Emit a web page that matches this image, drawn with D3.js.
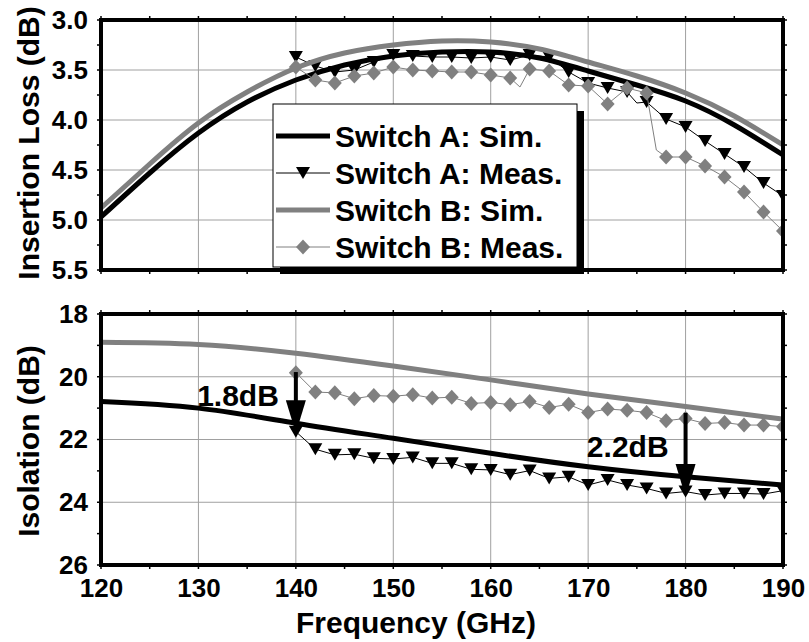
<!DOCTYPE html>
<html>
<head>
<meta charset="utf-8">
<script src="https://cdn.jsdelivr.net/npm/d3@7"></script>
<style>
  body { margin: 0; background: #fff; }
  text { font-family: "Liberation Sans", Arial, sans-serif; font-weight: bold; }
</style>
</head>
<body>
<div id="chart"></div>
<script>
//<data>------------------------------------------------//
var xTicks = [120, 130, 140, 150, 160, 170, 180, 190];
var ilTicks = [3.0, 3.5, 4.0, 4.5, 5.0, 5.5];
var isoTicks = [18, 20, 22, 24, 26];

// simulated curves (5 GHz steps, insertion loss)
var ilSimFreq = [120, 125, 130, 135, 140, 145, 150, 155, 160, 165, 170, 175, 180, 185, 190];
var ilSimA = [4.97, 4.53, 4.13, 3.82, 3.60, 3.45, 3.36, 3.32, 3.32, 3.38, 3.51, 3.65, 3.81, 4.05, 4.35];
var ilSimB = [4.88, 4.44, 4.03, 3.72, 3.48, 3.33, 3.25, 3.21, 3.22, 3.29, 3.42, 3.56, 3.73, 3.96, 4.25];

// measured (2 GHz steps, with marker)
var measFreq = [140, 142, 144, 146, 148, 150, 152, 154, 156, 158, 160, 162, 164, 166, 168, 170, 172, 174, 176, 178, 180, 182, 184, 186, 188, 190];
var ilMeasA = [3.37, 3.46, 3.52, 3.50, 3.42, 3.35, 3.36, 3.37, 3.37, 3.38, 3.37, 3.40, 3.35, 3.37, 3.52, 3.63, 3.68, 3.72, 3.82, 3.99, 4.07, 4.21, 4.34, 4.47, 4.63, 4.76];
var ilMeasB = [3.47, 3.60, 3.63, 3.56, 3.53, 3.47, 3.50, 3.51, 3.52, 3.52, 3.55, 3.58, 3.49, 3.51, 3.65, 3.66, 3.84, 3.68, 3.73, 4.37, 4.37, 4.46, 4.57, 4.72, 4.92, 5.11];
// extra measured points without marker
var ilMeasAExtraFreq = [175];
var ilMeasAExtra = [3.83];
var ilMeasBExtraFreq = [163, 177];
var ilMeasBExtra = [3.67, 4.30];

// isolation
var isoSimFreq = [120, 130, 140, 150, 160, 170, 180, 190];
var isoSimA = [20.79, 21.00, 21.48, 21.96, 22.44, 22.87, 23.19, 23.45];
var isoSimB = [18.90, 18.97, 19.25, 19.66, 20.10, 20.55, 20.95, 21.35];
var isoMeasA = [21.75, 22.31, 22.49, 22.47, 22.60, 22.62, 22.57, 22.76, 22.76, 22.95, 22.97, 23.12, 22.99, 23.24, 23.19, 23.45, 23.29, 23.45, 23.56, 23.72, 23.66, 23.77, 23.72, 23.72, 23.74, 23.63];
var isoMeasB = [19.87, 20.49, 20.51, 20.70, 20.60, 20.62, 20.57, 20.68, 20.65, 20.85, 20.82, 20.89, 20.79, 20.98, 20.88, 21.14, 21.03, 21.07, 21.14, 21.40, 21.33, 21.49, 21.46, 21.54, 21.54, 21.59];

// annotation arrows
var arrowFreq = [140, 180];
var arrowFrom = [19.85, 21.15];
var arrowTo = [21.80, 23.83];
var arrowText = ["1.8dB", "2.2dB"];

var legendNames = ["Switch A: Sim.", "Switch A: Meas.", "Switch B: Sim.", "Switch B: Meas."];
//------------------------------------------------------//

var W = 809, H = 642;
var grey = "#808080";
var svg = d3.select("#chart").append("svg").attr("width", W).attr("height", H);

var x = d3.scaleLinear().domain([120, 190]).range([101, 783]);
var yIL = d3.scaleLinear().domain([3.0, 5.5]).range([20, 270]);
var yIso = d3.scaleLinear().domain([18, 26]).range([314, 565]);

var triPath = "M-7,-6L7,-6L0,6Z";
var diaPath = "M0,-7.5L7,0L0,7.5L-7,0Z";

function zip(f, v) { return f.map(function (d, i) { return [d, v[i]]; }); }
function withExtra(f, v, ef, ev) {
    return zip(f, v).concat(zip(ef, ev)).sort(function (a, b) { return a[0] - b[0]; });
}

function panel(y, yTicks, fmt, minorY, clipId, series) {
    var x0 = x.range()[0], x1 = x.range()[1], y0 = y.range()[0], y1 = y.range()[1];
    svg.append("clipPath").attr("id", clipId).append("rect")
        .attr("x", x0).attr("y", y0).attr("width", x1 - x0).attr("height", y1 - y0);
    var g = svg.append("g");
    // grid
    g.selectAll(".gx").data(xTicks).enter().append("line")
        .attr("x1", d => x(d)).attr("x2", d => x(d)).attr("y1", y0).attr("y2", y1)
        .attr("stroke", "#a0a0a0").attr("stroke-width", 1);
    g.selectAll(".gy").data(yTicks).enter().append("line")
        .attr("x1", x0).attr("x2", x1).attr("y1", d => y(d)).attr("y2", d => y(d))
        .attr("stroke", "#a0a0a0").attr("stroke-width", 1);

    var data = g.append("g").attr("clip-path", "url(#" + clipId + ")");
    series.forEach(function (s) {
        var line = d3.line().x(d => x(d[0])).y(d => y(d[1]));
        if (s.smooth) line.curve(d3.curveNatural);
        data.append("path").datum(s.line)
            .attr("d", line).attr("fill", "none")
            .attr("stroke", s.color).attr("stroke-width", s.width);
        if (s.marker) {
            data.selectAll(null).data(s.points).enter().append("path")
                .attr("d", s.marker).attr("fill", s.color)
                .attr("transform", d => "translate(" + x(d[0]) + "," + y(d[1]) + ")");
        }
    });

    // minor ticks
    var mx = d3.range(120, 190.1, 5), my = d3.range(y.domain()[0], y.domain()[1] + 1e-6, minorY);
    g.selectAll(".mx").data(mx).enter().append("line")
        .attr("x1", d => x(d)).attr("x2", d => x(d)).attr("y1", y0 - 4).attr("y2", y0)
        .attr("stroke", "#000").attr("stroke-width", 1.5);
    g.selectAll(".mx2").data(mx).enter().append("line")
        .attr("x1", d => x(d)).attr("x2", d => x(d)).attr("y1", y1).attr("y2", y1 + 4)
        .attr("stroke", "#000").attr("stroke-width", 1.5);
    g.selectAll(".my").data(my).enter().append("line")
        .attr("x1", x0 - 4).attr("x2", x0).attr("y1", d => y(d)).attr("y2", d => y(d))
        .attr("stroke", "#000").attr("stroke-width", 1.5);
    g.selectAll(".my2").data(my).enter().append("line")
        .attr("x1", x1).attr("x2", x1 + 4).attr("y1", d => y(d)).attr("y2", d => y(d))
        .attr("stroke", "#000").attr("stroke-width", 1.5);

    // y axis labels
    var ax = svg.append("g").attr("transform", "translate(" + x0 + ",0)")
        .call(d3.axisLeft(y).tickValues(yTicks).tickFormat(fmt).tickSize(0).tickPadding(13));
    ax.select(".domain").remove();
    ax.selectAll("text").style("font-size", "26px").attr("fill", "#000")
        .style("font-family", "'Liberation Sans', Arial, sans-serif");
    return g;
}

//<top panel>-------------------------------------------//
var top = panel(yIL, ilTicks, d3.format(".1f"), 0.25, "clipTop", [
    { line: zip(ilSimFreq, ilSimA), color: "#000", width: 5, smooth: true },
    { line: withExtra(measFreq, ilMeasA, ilMeasAExtraFreq, ilMeasAExtra), points: zip(measFreq, ilMeasA), color: "#000", width: 1, marker: triPath },
    { line: zip(ilSimFreq, ilSimB), color: grey, width: 5, smooth: true },
    { line: withExtra(measFreq, ilMeasB, ilMeasBExtraFreq, ilMeasBExtra), points: zip(measFreq, ilMeasB), color: grey, width: 1, marker: diaPath }
]);

//<legend>----------------------------------------------//
var lg = svg.append("g");
lg.append("rect").attr("x", 280).attr("y", 111).attr("width", 304).attr("height", 163).attr("fill", "#000");
lg.append("rect").attr("x", 273).attr("y", 104).attr("width", 304).attr("height", 163)
    .attr("fill", "#fff").attr("stroke", "#000").attr("stroke-width", 1);
var legStyle = [
    { color: "#000", width: 5, marker: null },
    { color: "#000", width: 1, marker: triPath },
    { color: grey, width: 5, marker: null },
    { color: grey, width: 1, marker: diaPath }
];
legendNames.forEach(function (name, i) {
    var ly = 136 + i * 37;
    lg.append("line").attr("x1", 276).attr("x2", 330).attr("y1", ly).attr("y2", ly)
        .attr("stroke", legStyle[i].color).attr("stroke-width", legStyle[i].width);
    if (legStyle[i].marker) {
        lg.append("path").attr("d", legStyle[i].marker).attr("fill", legStyle[i].color)
            .attr("transform", "translate(303," + ly + ")");
    }
    lg.append("text").attr("x", 335).attr("y", ly).attr("dy", "0.36em")
        .style("font-size", "30px").attr("fill", "#000").text(name);
});

//<bottom panel>----------------------------------------//
var bottom = panel(yIso, isoTicks, d3.format("d"), 1, "clipBot", [
    { line: zip(isoSimFreq, isoSimA), color: "#000", width: 5, smooth: true },
    { line: zip(measFreq, isoMeasA), points: zip(measFreq, isoMeasA), color: "#000", width: 1, marker: triPath },
    { line: zip(isoSimFreq, isoSimB), color: grey, width: 5, smooth: true },
    { line: zip(measFreq, isoMeasB), points: zip(measFreq, isoMeasB), color: grey, width: 1, marker: diaPath }
]);

// arrows
var textOffset = [34, 44];
arrowFreq.forEach(function (f, i) {
    var ax_ = x(f), ya = yIso(arrowFrom[i]), yb = yIso(arrowTo[i]);
    svg.append("line").attr("x1", ax_).attr("x2", ax_).attr("y1", ya).attr("y2", yb - 30)
        .attr("stroke", "#000").attr("stroke-width", 4);
    svg.append("path").attr("d", "M" + (ax_ - 10) + "," + (yb - 33) + "L" + (ax_ + 10) + "," + (yb - 33) + "L" + ax_ + "," + yb + "Z")
        .attr("fill", "#000");
    svg.append("text").attr("x", ax_ - 17).attr("y", ya + textOffset[i])
        .attr("text-anchor", "end").style("font-size", "30px").attr("fill", "#000").text(arrowText[i]);
});

// frames on top
[[yIL], [yIso]].forEach(function (p) {
    var y = p[0];
    svg.append("rect").attr("x", x.range()[0]).attr("y", y.range()[0])
        .attr("width", x.range()[1] - x.range()[0]).attr("height", y.range()[1] - y.range()[0])
        .attr("fill", "none").attr("stroke", "#000").attr("stroke-width", 4);
});

// x axis labels
var xa = svg.append("g").attr("transform", "translate(0," + yIso.range()[1] + ")")
    .call(d3.axisBottom(x).tickValues(xTicks).tickFormat(d3.format("d")).tickSize(0).tickPadding(14));
xa.select(".domain").remove();
xa.selectAll("text").style("font-size", "26px").attr("fill", "#000")
    .style("font-family", "'Liberation Sans', Arial, sans-serif");

// axis titles
svg.append("text").attr("x", 416).attr("y", 633).attr("text-anchor", "middle")
    .style("font-size", "30px").attr("fill", "#000").text("Frequency (GHz)");
svg.append("text").attr("transform", "translate(28,143) rotate(-90)").attr("text-anchor", "middle")
    .attr("dy", "0.36em").style("font-size", "30px").attr("fill", "#000").text("Insertion Loss (dB)");
svg.append("text").attr("transform", "translate(28,441) rotate(-90)").attr("text-anchor", "middle")
    .attr("dy", "0.36em").style("font-size", "30px").attr("fill", "#000").text("Isolation (dB)");
</script>
</body>
</html>
